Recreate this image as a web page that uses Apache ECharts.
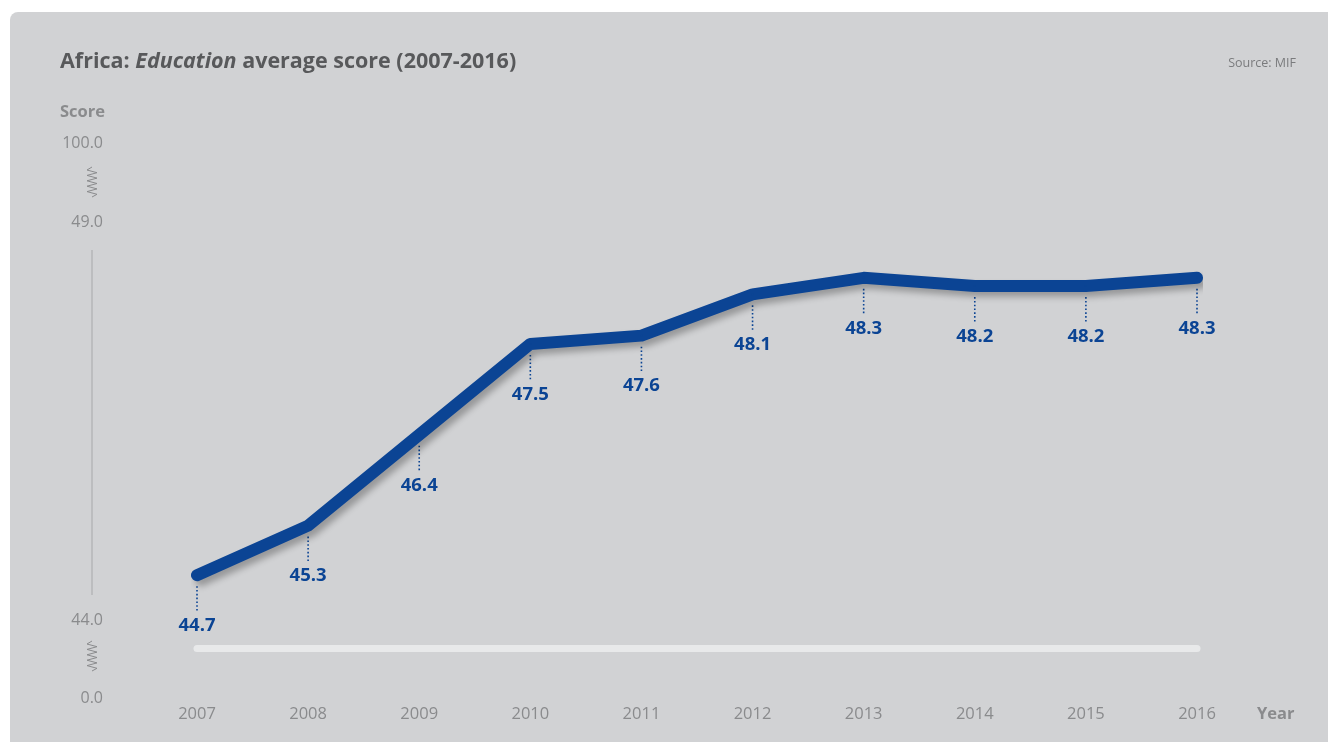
<!DOCTYPE html>
<html>
<head>
<meta charset="utf-8">
<script src="https://cdn.jsdelivr.net/npm/echarts@6/dist/echarts.min.js"></script>
<style>
  html, body { margin: 0; padding: 0; background: #ffffff; }
  #panel { position: absolute; left: 10px; top: 12px; width: 1318px; height: 730px;
           background: #d1d2d4; border-top-left-radius: 8px; }
  #main { position: absolute; left: 0; top: 0; width: 1328px; height: 742px; }
</style>
</head>
<body>
<div id="panel"></div>
<div id="main"></div>
<script>
const years = ['2007', '2008', '2009', '2010', '2011', '2012', '2013', '2014', '2015', '2016'];
const scores = [44.7, 45.3, 46.4, 47.5, 47.6, 48.1, 48.3, 48.2, 48.2, 48.3];
const axisMin = 44;
const axisMax = 49;
const breakLabels = ['100.0', '49.0', '44.0', '0.0'];

const blue = '#0b4494';
const grey = '#8a8b8d';
const font = '"Open Sans", "Noto Sans", sans-serif';

const myChart = echarts.init(document.getElementById('main'), null, { renderer: 'canvas' });

myChart.setOption({
  backgroundColor: 'transparent',
  animation: false,
  title: [{
    left: 60, top: 51, padding: 0,
    text: '{b|Africa: }{bi|Education}{b| average score (2007-2016)}',
    textStyle: {
      rich: {
        b: { fontFamily: font, fontSize: 21.5, fontWeight: 'bold', color: '#58595b' },
        bi: { fontFamily: font, fontSize: 21.5, fontWeight: 'bold', fontStyle: 'italic', color: '#58595b' }
      }
    }
  }, {
    right: 32, top: 57, padding: 0,
    text: 'Source: MIF',
    textStyle: { fontFamily: font, fontSize: 12.5, fontWeight: 'normal', color: '#7a7b7d' }
  }, {
    left: 60, top: 104, padding: 0,
    text: 'Score',
    textStyle: { fontFamily: font, fontSize: 16.5, fontWeight: 'bold', color: grey }
  }],
  grid: { left: 197, right: 131, top: 220, bottom: 109 },
  xAxis: {
    type: 'category',
    boundaryGap: false,
    data: years,
    offset: 15,
    name: 'Year',
    nameLocation: 'end',
    nameGap: 60,
    nameTextStyle: { fontFamily: font, fontSize: 16.5, fontWeight: 'bold', color: grey,
                     verticalAlign: 'top', padding: [58, 0, 0, 0] },
    axisLine: { lineStyle: { color: '#e8e9ea', width: 7 } },
    axisTick: { show: false },
    axisLabel: { margin: 58, fontFamily: font, fontSize: 16.5, color: grey }
  },
  yAxis: {
    type: 'value',
    min: axisMin,
    max: axisMax,
    show: false
  },
  series: [{
    type: 'line',
    data: scores,
    symbol: 'circle',
    symbolSize: 2,
    showSymbol: true,
    itemStyle: { color: blue },
    z: 3,
    lineStyle: {
      color: blue, width: 12, cap: 'round', join: 'round',
      shadowColor: 'rgba(0,0,0,0.28)', shadowBlur: 6, shadowOffsetX: 4, shadowOffsetY: 5
    },
    label: {
      show: true,
      position: 'bottom',
      distance: 40,
      formatter: p => p.value.toFixed(1),
      fontFamily: font, fontSize: 18.5, fontWeight: 'bold', color: blue
    },
    labelLayout: { hideOverlap: false }
  }, {
    // dotted leader lines below each point
    type: 'custom',
    data: scores,
    z: 2,
    renderItem: (params, api) => {
      const p = api.coord([api.value(0), api.value(1)]);
      return {
        type: 'line',
        shape: { x1: p[0], y1: p[1] + 11, x2: p[0], y2: p[1] + 37 },
        style: { stroke: blue, lineWidth: 1.6, lineDash: [1.6, 2.2] }
      };
    }
  }]
});

// y-axis with scale breaks, positioned from the value scale
function drawAxisDecor() {
  const yTop = myChart.convertToPixel({ yAxisIndex: 0 }, axisMax);
  const yBot = myChart.convertToPixel({ yAxisIndex: 0 }, axisMin);
  const ax = 92;
  const zig = (cy) => {
    const pts = [[ax, cy - 15]];
    for (let i = 0; i <= 9; i++) {
      pts.push([ax + (i % 2 === 0 ? -5 : 5), cy - 12 + i * 2.7]);
    }
    pts.push([ax, cy + 15]);
    return pts;
  };
  const label = (txt, y) => ({
    type: 'text', x: 103, y: y,
    style: { text: txt, align: 'right', verticalAlign: 'middle',
             font: '16px ' + font, fill: grey }
  });
  myChart.setOption({
    graphic: [
      label(breakLabels[0], yTop - 77),
      { type: 'polyline', shape: { points: zig(yTop - 38) }, style: { stroke: grey, lineWidth: 1, fill: null } },
      label(breakLabels[1], yTop + 2),
      { type: 'line', shape: { x1: ax, y1: yTop + 30, x2: ax, y2: yBot - 38 }, style: { stroke: '#a7a8aa', lineWidth: 1 } },
      label(breakLabels[2], yBot - 13),
      { type: 'polyline', shape: { points: zig(yBot + 23) }, style: { stroke: grey, lineWidth: 1, fill: null } },
      label(breakLabels[3], yBot + 65)
    ]
  });
}
drawAxisDecor();
</script>
</body>
</html>
